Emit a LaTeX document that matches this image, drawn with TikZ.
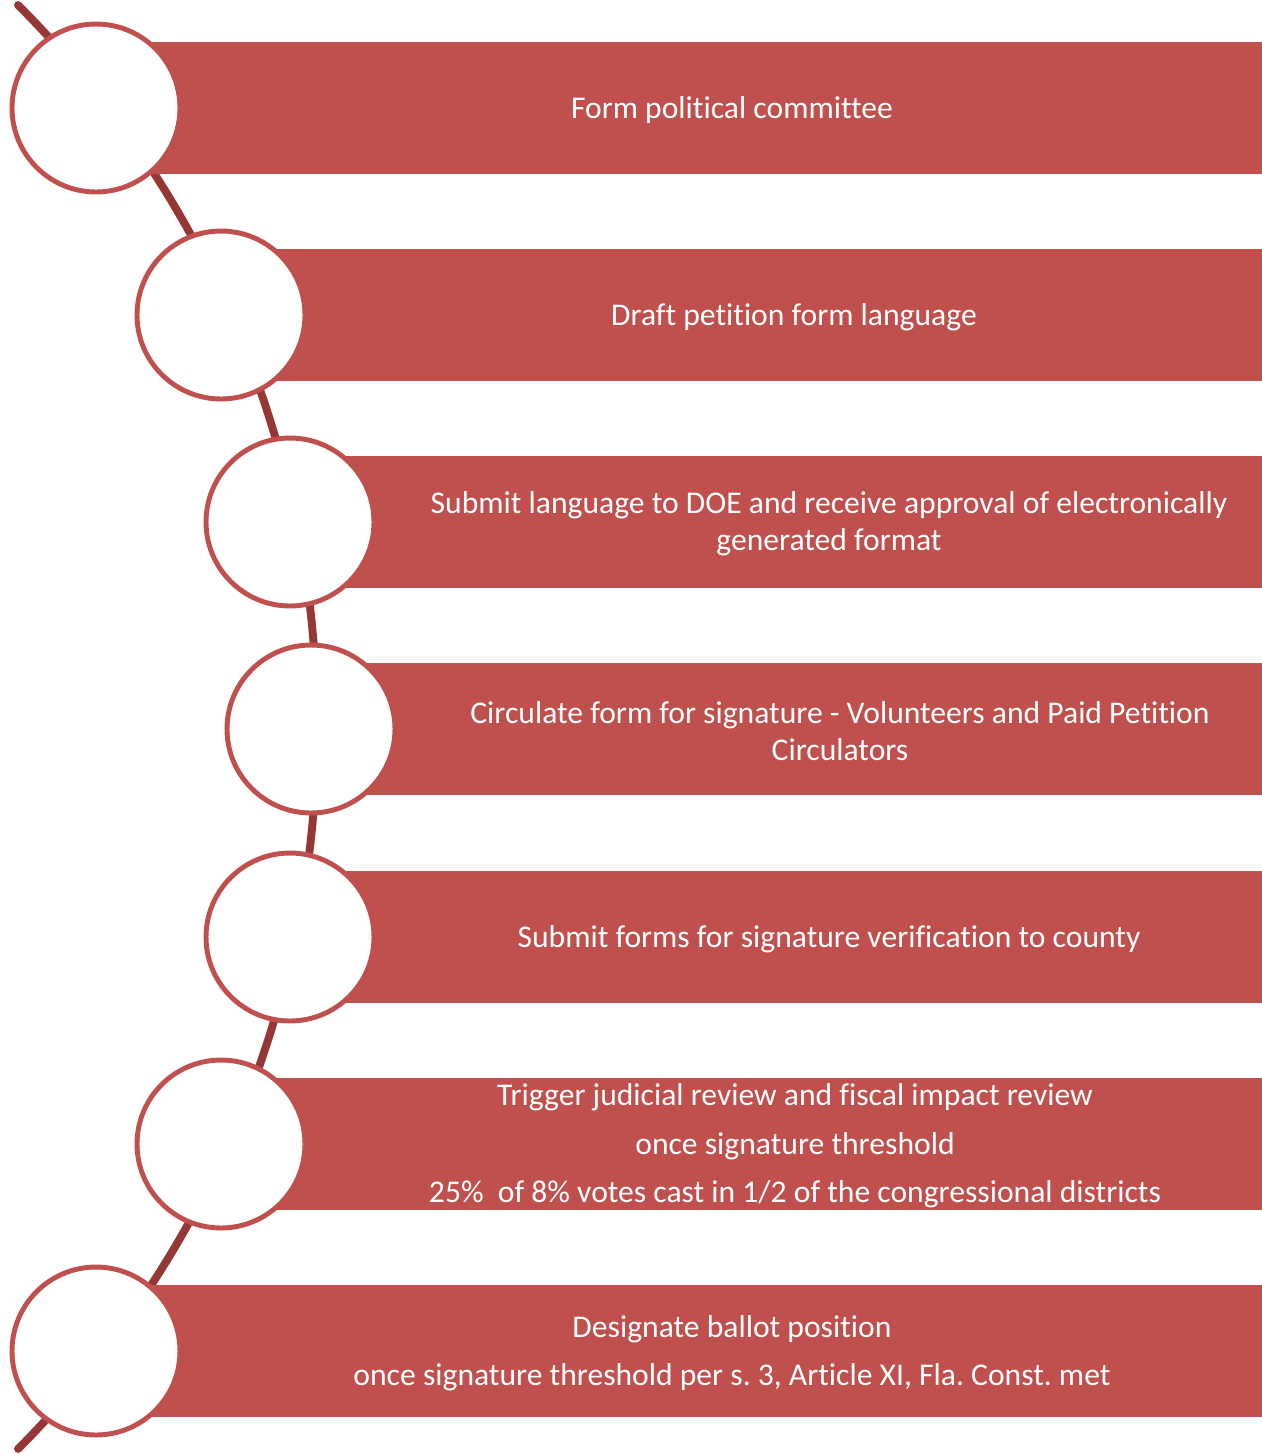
\documentclass[tikz,border=0pt]{standalone}
\usepackage{fontspec}
\setmainfont{Carlito}[Ligatures={NoCommon}]
\frenchspacing
\definecolor{barred}{HTML}{C0504D}
\definecolor{arcred}{HTML}{953735}
\tikzset{
  stepbar/.style={fill=barred, draw=none, anchor=west, inner sep=0pt, minimum height=2.64cm},
  stepdot/.style={circle, draw=barred, fill=white, line width=2.8pt, inner sep=0pt, minimum size=3.36cm},
  steptext/.style={text=white, align=center, font=\fontsize{18}{21}\selectfont},
}

\begin{document}
\begin{tikzpicture}[x=0.02cm,y=-0.02cm]
  \useasboundingbox (0,0) rectangle (1262,1455);
  \draw[arcred, line width=4.5pt, line cap=round] (18,5) arc[start angle=-45, end angle=45, radius=1021];
  \foreach \cx/\cy [count=\i] in {96/108, 221/315, 290/522, 311/729, 290/937, 221/1144, 96/1351} {
    \pgfmathsetmacro\bw{(1262-\cx)*0.02}
    \node[stepbar, minimum width=\bw cm] (bar\i) at (\cx,\cy) {};
    \node[stepdot] (dot\i) at (\cx,\cy) {};
  }
  \node[steptext] (t1) at (732,110) {Form political committee};
  \node[steptext] (t2) at (794,317) {Draft petition form language};
  \node[steptext] (t3) at (829,524) {Submit language to DOE and receive approval of electronically\\generated format};
  \node[steptext] (t4) at (840,731) {Circulate form for signature - Volunteers and Paid Petition\\Circulators};
  \node[steptext] (t5) at (829,939) {Submit forms for signature verification to county};
  \node[steptext] (t6) at (795,1146) {Trigger judicial review and fiscal impact review\\[6.5pt]once signature threshold\\[6.5pt]25\%~ of 8\% votes cast in 1/2 of the congressional districts};
  \node[steptext] (t7) at (732,1353) {Designate ballot position\\[6.5pt]once signature threshold per s. 3, Article XI, Fla. Const. met};
\end{tikzpicture}
\end{document}
